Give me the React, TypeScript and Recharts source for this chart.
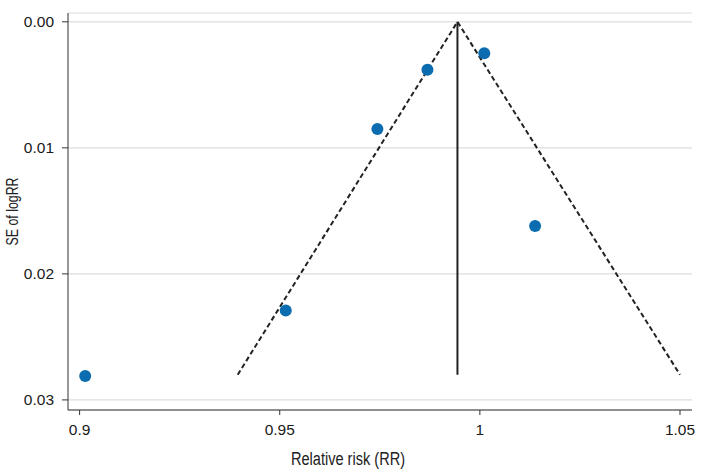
import React from 'react';
import { ScatterChart, Scatter, XAxis, YAxis, CartesianGrid, Label } from 'recharts';

// Study estimates (relative risk) and their standard errors of log RR
const rrValues = [0.9014, 0.9515, 0.9744, 0.9869, 1.0011, 1.0138];
const seValues = [0.0281, 0.0229, 0.0085, 0.0038, 0.0025, 0.0162];

// Funnel (pooled estimate and pseudo 95% limits at the largest SE)
const pooledRR = 0.9944;
const funnelLowerRR = 0.9395;
const funnelUpperRR = 1.05;
const apexSE = 0;
const maxSE = 0.028;

const xTicks = [0.9, 0.95, 1, 1.05];
const yTicks = [0, 0.01, 0.02, 0.03];

const studies = rrValues.map((x, i) => ({ x, y: seValues[i] }));
const funnel = [
  { x: funnelLowerRR, y: maxSE },
  { x: pooledRR, y: apexSE },
  { x: funnelUpperRR, y: maxSE },
];
const pooledLine = [
  { x: pooledRR, y: apexSE },
  { x: pooledRR, y: maxSE },
];

const FONT = '"Liberation Sans", Arial, sans-serif';

const Dot = (props: any) => {
  const { cx, cy } = props;
  if (cx == null || cy == null) return <g />;
  return <circle cx={cx} cy={cy} r={6} fill="#0b6db0" />;
};

const Nothing = () => <g />;

export default function App() {
  return (
    <div style={{ position: 'absolute', left: 0, top: 0 }}>
      <ScatterChart width={701} height={471} margin={{ top: 13, right: 9, bottom: 0, left: 0 }}>
        <CartesianGrid horizontal vertical={false} stroke="#dcdcdc" strokeWidth={1.2} />
        <XAxis
          type="number"
          dataKey="x"
          domain={[0.8971, 1.053]}
          ticks={xTicks}
          allowDataOverflow
          height={61}
          tickSize={5}
          tickMargin={9}
          tickFormatter={(v: number) => String(v)}
          axisLine={{ stroke: '#333' }}
          tickLine={{ stroke: '#333' }}
          tick={{ fill: '#1a1a1a', fontSize: 15.5, fontFamily: FONT }}
        >
          <Label
            content={() => (
              <text
                x={348}
                y={465}
                textAnchor="middle"
                fill="#222"
                fontSize={18}
                fontFamily={FONT}
                textLength={114}
                lengthAdjust="spacingAndGlyphs"
              >
                Relative risk (RR)
              </text>
            )}
          />
        </XAxis>
        <YAxis
          type="number"
          dataKey="y"
          reversed
          domain={[-0.0007, 0.0308]}
          ticks={yTicks}
          allowDataOverflow
          width={68}
          tickSize={6}
          tickMargin={8}
          tickFormatter={(v: number) => v.toFixed(2)}
          axisLine={{ stroke: '#333' }}
          tickLine={{ stroke: '#333' }}
          tick={{ fill: '#1a1a1a', fontSize: 15.5, fontFamily: FONT }}
        >
          <Label
            content={(p: any) => {
              const vb = p.viewBox || { x: 0, y: 13, height: 397 };
              const cy = vb.y + vb.height / 2;
              return (
                <text
                  x={18}
                  y={cy}
                  transform={`rotate(-90 18 ${cy})`}
                  textAnchor="middle"
                  fill="#222"
                  fontSize={16.5}
                  fontFamily={FONT}
                  textLength={68}
                  lengthAdjust="spacingAndGlyphs"
                >
                  SE of logRR
                </text>
              );
            }}
          />
        </YAxis>
        <Scatter
          data={funnel}
          shape={Nothing}
          line={{ stroke: '#222', strokeWidth: 2, strokeDasharray: '5 3' }}
          lineType="joint"
          isAnimationActive={false}
        />
        <Scatter
          data={pooledLine}
          shape={Nothing}
          line={{ stroke: '#222', strokeWidth: 2 }}
          lineType="joint"
          isAnimationActive={false}
        />
        <Scatter data={studies} shape={Dot} isAnimationActive={false} />
      </ScatterChart>
    </div>
  );
}
